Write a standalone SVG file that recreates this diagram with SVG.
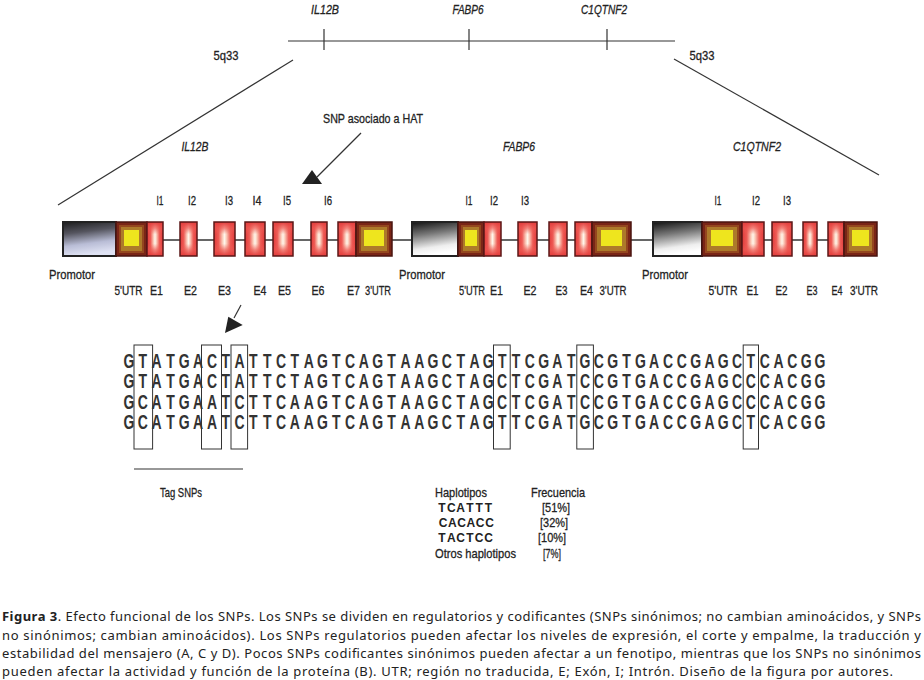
<svg xmlns="http://www.w3.org/2000/svg" width="924" height="680" viewBox="0 0 924 680">
<defs>
<style>
.lbl{font-family:"Liberation Sans",Arial,sans-serif;font-size:13.5px;fill:#222;stroke:#222;stroke-width:0.3}
.it{font-style:italic}
.seq{font-family:"Liberation Sans",Arial,sans-serif;font-weight:bold;font-size:20px;fill:#333;text-anchor:middle}
.hap{font-family:"Liberation Sans",Arial,sans-serif;font-weight:bold;font-size:12px;fill:#222;text-anchor:middle}
.mid{text-anchor:middle}
.cap{font-family:"Noto Sans","DejaVu Sans",sans-serif;font-size:13px;fill:#222}
.ln{stroke:#333;stroke-width:1.2;fill:none}
.exH{fill:url(#exH)}
.exV{fill:url(#exV)}
.exB{fill:none;stroke:#5b1717;stroke-width:1.5}
.u0{fill:#7a2517}
.u1{fill:#94471f}
.u2{fill:#ad7a2a}
.u3{fill:#eee51e}
.uB{fill:none;stroke:#4a1510;stroke-width:1.5}
.pB{stroke:#222;stroke-width:2}
.box{fill:none;stroke:#333;stroke-width:1}
</style>
<linearGradient id="exH" x1="0" y1="0" x2="1" y2="0">
<stop offset="0" stop-color="#e13a3a"/>
<stop offset="0.22" stop-color="#ee5b55"/>
<stop offset="0.42" stop-color="#fbd4c2"/>
<stop offset="0.5" stop-color="#fff4ea"/>
<stop offset="0.58" stop-color="#fbd4c2"/>
<stop offset="0.78" stop-color="#ee5b55"/>
<stop offset="1" stop-color="#e13a3a"/>
</linearGradient>
<linearGradient id="exV" x1="0" y1="0" x2="0" y2="1">
<stop offset="0" stop-color="#e13a3a" stop-opacity="1"/>
<stop offset="0.18" stop-color="#ec5550" stop-opacity="0.7"/>
<stop offset="0.36" stop-color="#ee5b55" stop-opacity="0"/>
<stop offset="0.64" stop-color="#ee5b55" stop-opacity="0"/>
<stop offset="0.82" stop-color="#ec5550" stop-opacity="0.7"/>
<stop offset="1" stop-color="#e13a3a" stop-opacity="1"/>
</linearGradient>
<linearGradient id="promA" x1="0" y1="0" x2="0.2" y2="1">
<stop offset="0" stop-color="#1c1c1c"/>
<stop offset="0.35" stop-color="#55555f"/>
<stop offset="0.7" stop-color="#b9bdd6"/>
<stop offset="1" stop-color="#dfe2f3"/>
</linearGradient>
<linearGradient id="promB" x1="0" y1="0" x2="0.2" y2="1">
<stop offset="0" stop-color="#111"/>
<stop offset="0.4" stop-color="#777"/>
<stop offset="0.8" stop-color="#eee"/>
<stop offset="1" stop-color="#fff"/>
</linearGradient>
</defs>
<rect width="924" height="680" fill="#fff"/>

<g id="chromosome">
<line class="ln" x1="288" y1="41" x2="675" y2="41"/>
<line class="ln" x1="324" y1="29" x2="324" y2="50"/>
<line class="ln" x1="469" y1="29" x2="469" y2="50"/>
<line class="ln" x1="607" y1="29" x2="607" y2="50"/>
<text class="lbl it mid" x="325" y="14" textLength="28" lengthAdjust="spacingAndGlyphs">IL12B</text>
<text class="lbl it mid" x="468" y="14" textLength="31" lengthAdjust="spacingAndGlyphs">FABP6</text>
<text class="lbl it mid" x="604" y="14" textLength="46" lengthAdjust="spacingAndGlyphs">C1QTNF2</text>
<text class="lbl mid" x="226" y="60" textLength="25" lengthAdjust="spacingAndGlyphs">5q33</text>
<text class="lbl mid" x="702" y="60" textLength="25" lengthAdjust="spacingAndGlyphs">5q33</text>
</g>

<g id="snp-label">
<text class="lbl mid" x="373" y="123" textLength="100" lengthAdjust="spacingAndGlyphs">SNP asociado a HAT</text>
</g>

<g id="gene-labels">
<text class="lbl it mid" x="195" y="151" textLength="27" lengthAdjust="spacingAndGlyphs">IL12B</text>
<text class="lbl it mid" x="519" y="151" textLength="32" lengthAdjust="spacingAndGlyphs">FABP6</text>
<text class="lbl it mid" x="757" y="151" textLength="48" lengthAdjust="spacingAndGlyphs">C1QTNF2</text>
</g>

<g id="backbone">
<line x1="116" y1="240" x2="877" y2="240" stroke="#333" stroke-width="1.5"/>
</g>

<g id="gene-il12b">
<rect class="pB" x="63" y="222" width="53" height="34" fill="url(#promA)"/>
<g class="utr"><rect class="u0" x="116" y="222" width="31" height="34"/><rect class="u1" x="119" y="225" width="25" height="28"/><rect class="u2" x="121" y="227" width="21" height="24"/><rect class="u3" x="124" y="230" width="15" height="16"/><rect class="uB" x="116" y="222" width="31" height="34"/></g>
<g class="exon"><rect class="exH" x="147" y="222" width="16" height="34"/><rect class="exV" x="147" y="222" width="16" height="34"/><rect class="exB" x="147" y="222" width="16" height="34"/></g>
<g class="exon"><rect class="exH" x="180" y="222" width="17" height="34"/><rect class="exV" x="180" y="222" width="17" height="34"/><rect class="exB" x="180" y="222" width="17" height="34"/></g>
<g class="exon"><rect class="exH" x="214" y="222" width="21" height="34"/><rect class="exV" x="214" y="222" width="21" height="34"/><rect class="exB" x="214" y="222" width="21" height="34"/></g>
<g class="exon"><rect class="exH" x="245" y="222" width="20" height="34"/><rect class="exV" x="245" y="222" width="20" height="34"/><rect class="exB" x="245" y="222" width="20" height="34"/></g>
<g class="exon"><rect class="exH" x="273" y="222" width="20" height="34"/><rect class="exV" x="273" y="222" width="20" height="34"/><rect class="exB" x="273" y="222" width="20" height="34"/></g>
<g class="exon"><rect class="exH" x="311" y="222" width="16" height="34"/><rect class="exV" x="311" y="222" width="16" height="34"/><rect class="exB" x="311" y="222" width="16" height="34"/></g>
<g class="exon"><rect class="exH" x="338" y="222" width="18" height="34"/><rect class="exV" x="338" y="222" width="18" height="34"/><rect class="exB" x="338" y="222" width="18" height="34"/></g>
<g class="utr"><rect class="u0" x="356" y="222" width="36" height="34"/><rect class="u1" x="359" y="225" width="30" height="28"/><rect class="u2" x="361" y="227" width="26" height="24"/><rect class="u3" x="364" y="230" width="20" height="16"/><rect class="uB" x="356" y="222" width="36" height="34"/></g>
<text class="lbl mid" x="160" y="205" textLength="7" lengthAdjust="spacingAndGlyphs">I1</text>
<text class="lbl mid" x="192" y="205" textLength="8" lengthAdjust="spacingAndGlyphs">I2</text>
<text class="lbl mid" x="229" y="205" textLength="8" lengthAdjust="spacingAndGlyphs">I3</text>
<text class="lbl mid" x="257" y="205" textLength="9" lengthAdjust="spacingAndGlyphs">I4</text>
<text class="lbl mid" x="287" y="205" textLength="8" lengthAdjust="spacingAndGlyphs">I5</text>
<text class="lbl mid" x="328" y="205" textLength="8" lengthAdjust="spacingAndGlyphs">I6</text>
<text class="lbl mid" x="72" y="279" textLength="46" lengthAdjust="spacingAndGlyphs">Promotor</text>
<text class="lbl mid" x="128.5" y="295" textLength="28" lengthAdjust="spacingAndGlyphs">5'UTR</text>
<text class="lbl mid" x="156.5" y="295" textLength="13" lengthAdjust="spacingAndGlyphs">E1</text>
<text class="lbl mid" x="190.5" y="295" textLength="13" lengthAdjust="spacingAndGlyphs">E2</text>
<text class="lbl mid" x="224.5" y="295" textLength="13" lengthAdjust="spacingAndGlyphs">E3</text>
<text class="lbl mid" x="260" y="295" textLength="13" lengthAdjust="spacingAndGlyphs">E4</text>
<text class="lbl mid" x="284.5" y="295" textLength="13" lengthAdjust="spacingAndGlyphs">E5</text>
<text class="lbl mid" x="318" y="295" textLength="13" lengthAdjust="spacingAndGlyphs">E6</text>
<text class="lbl mid" x="353.5" y="295" textLength="13" lengthAdjust="spacingAndGlyphs">E7</text>
<text class="lbl mid" x="378" y="295" textLength="26" lengthAdjust="spacingAndGlyphs">3'UTR</text>
</g>

<g id="gene-fabp6">
<rect class="pB" x="412" y="222" width="46" height="34" fill="url(#promB)"/>
<g class="utr"><rect class="u0" x="458" y="222" width="26" height="34"/><rect class="u1" x="461" y="225" width="20" height="28"/><rect class="u2" x="463" y="227" width="16" height="24"/><rect class="u3" x="465" y="230" width="12" height="16"/><rect class="uB" x="458" y="222" width="26" height="34"/></g>
<g class="exon"><rect class="exH" x="484" y="222" width="17" height="34"/><rect class="exV" x="484" y="222" width="17" height="34"/><rect class="exB" x="484" y="222" width="17" height="34"/></g>
<g class="exon"><rect class="exH" x="518" y="222" width="19" height="34"/><rect class="exV" x="518" y="222" width="19" height="34"/><rect class="exB" x="518" y="222" width="19" height="34"/></g>
<g class="exon"><rect class="exH" x="549" y="222" width="18" height="34"/><rect class="exV" x="549" y="222" width="18" height="34"/><rect class="exB" x="549" y="222" width="18" height="34"/></g>
<g class="exon"><rect class="exH" x="575" y="222" width="17" height="34"/><rect class="exV" x="575" y="222" width="17" height="34"/><rect class="exB" x="575" y="222" width="17" height="34"/></g>
<g class="utr"><rect class="u0" x="592" y="222" width="39" height="34"/><rect class="u1" x="595" y="225" width="33" height="28"/><rect class="u2" x="597" y="227" width="29" height="24"/><rect class="u3" x="601" y="230" width="21" height="16"/><rect class="uB" x="592" y="222" width="39" height="34"/></g>
<text class="lbl mid" x="469" y="205" textLength="7" lengthAdjust="spacingAndGlyphs">I1</text>
<text class="lbl mid" x="494" y="205" textLength="8" lengthAdjust="spacingAndGlyphs">I2</text>
<text class="lbl mid" x="525" y="205" textLength="8" lengthAdjust="spacingAndGlyphs">I3</text>
<text class="lbl mid" x="422" y="279" textLength="46" lengthAdjust="spacingAndGlyphs">Promotor</text>
<text class="lbl mid" x="472" y="295" textLength="26" lengthAdjust="spacingAndGlyphs">5'UTR</text>
<text class="lbl mid" x="496.5" y="295" textLength="13" lengthAdjust="spacingAndGlyphs">E1</text>
<text class="lbl mid" x="530" y="295" textLength="13" lengthAdjust="spacingAndGlyphs">E2</text>
<text class="lbl mid" x="561.5" y="295" textLength="12" lengthAdjust="spacingAndGlyphs">E3</text>
<text class="lbl mid" x="586.5" y="295" textLength="13" lengthAdjust="spacingAndGlyphs">E4</text>
<text class="lbl mid" x="613" y="295" textLength="27" lengthAdjust="spacingAndGlyphs">3'UTR</text>
</g>

<g id="gene-c1qtnf2">
<rect class="pB" x="653" y="222" width="49" height="34" fill="url(#promB)"/>
<g class="utr"><rect class="u0" x="702" y="222" width="40" height="34"/><rect class="u1" x="705" y="225" width="34" height="28"/><rect class="u2" x="707" y="227" width="30" height="24"/><rect class="u3" x="711" y="230" width="22" height="16"/><rect class="uB" x="702" y="222" width="40" height="34"/></g>
<g class="exon"><rect class="exH" x="742" y="222" width="22" height="34"/><rect class="exV" x="742" y="222" width="22" height="34"/><rect class="exB" x="742" y="222" width="22" height="34"/></g>
<g class="exon"><rect class="exH" x="772" y="222" width="20" height="34"/><rect class="exV" x="772" y="222" width="20" height="34"/><rect class="exB" x="772" y="222" width="20" height="34"/></g>
<g class="exon"><rect class="exH" x="803" y="222" width="14" height="34"/><rect class="exV" x="803" y="222" width="14" height="34"/><rect class="exB" x="803" y="222" width="14" height="34"/></g>
<g class="exon"><rect class="exH" x="828" y="222" width="16" height="34"/><rect class="exV" x="828" y="222" width="16" height="34"/><rect class="exB" x="828" y="222" width="16" height="34"/></g>
<g class="utr"><rect class="u0" x="844" y="222" width="33" height="34"/><rect class="u1" x="847" y="225" width="27" height="28"/><rect class="u2" x="849" y="227" width="23" height="24"/><rect class="u3" x="852" y="230" width="17" height="16"/><rect class="uB" x="844" y="222" width="33" height="34"/></g>
<text class="lbl mid" x="718" y="205" textLength="7" lengthAdjust="spacingAndGlyphs">I1</text>
<text class="lbl mid" x="756" y="205" textLength="8" lengthAdjust="spacingAndGlyphs">I2</text>
<text class="lbl mid" x="787" y="205" textLength="8" lengthAdjust="spacingAndGlyphs">I3</text>
<text class="lbl mid" x="665" y="279" textLength="46" lengthAdjust="spacingAndGlyphs">Promotor</text>
<text class="lbl mid" x="723" y="295" textLength="29" lengthAdjust="spacingAndGlyphs">5'UTR</text>
<text class="lbl mid" x="752.5" y="295" textLength="12" lengthAdjust="spacingAndGlyphs">E1</text>
<text class="lbl mid" x="781.5" y="295" textLength="12" lengthAdjust="spacingAndGlyphs">E2</text>
<text class="lbl mid" x="812" y="295" textLength="11" lengthAdjust="spacingAndGlyphs">E3</text>
<text class="lbl mid" x="837" y="295" textLength="11" lengthAdjust="spacingAndGlyphs">E4</text>
<text class="lbl mid" x="864" y="295" textLength="28" lengthAdjust="spacingAndGlyphs">3'UTR</text>
</g>

<g id="sequence">
<g transform="scale(0.7,1)">
<text class="seq" y="368" x="184.3 204 223.8 243.5 263.3 283 302.8 322.5 342.2 362 381.7 401.5 421.2 441 460.7 480.4 500.2 519.9 539.7 559.4 579.2 598.9 618.6 638.4 658.1 677.9 697.6 717.4 737.1 756.9 776.6 796.3 816.1 835.8 855.6 875.3 895 914.8 934.5 954.3 974 993.8 1013.5 1033.2 1053 1072.7 1092.5 1112.2 1132 1151.7 1171.4">GTATGACTATTCTAGTCAGTAAGCTAGTTCGATGCGTGACCGAGCTCACGG</text>
<text class="seq" y="388.5" x="184.3 204 223.8 243.5 263.3 283 302.8 322.5 342.2 362 381.7 401.5 421.2 441 460.7 480.4 500.2 519.9 539.7 559.4 579.2 598.9 618.6 638.4 658.1 677.9 697.6 717.4 737.1 756.9 776.6 796.3 816.1 835.8 855.6 875.3 895 914.8 934.5 954.3 974 993.8 1013.5 1033.2 1053 1072.7 1092.5 1112.2 1132 1151.7 1171.4">GTATGACTATTCTAGTCAGTAAGCTAGCTCGATCCGTGACCGAGCCCACGG</text>
<text class="seq" y="409" x="184.3 204 223.8 243.5 263.3 283 302.8 322.5 342.2 362 381.7 401.5 421.2 441 460.7 480.4 500.2 519.9 539.7 559.4 579.2 598.9 618.6 638.4 658.1 677.9 697.6 717.4 737.1 756.9 776.6 796.3 816.1 835.8 855.6 875.3 895 914.8 934.5 954.3 974 993.8 1013.5 1033.2 1053 1072.7 1092.5 1112.2 1132 1151.7 1171.4">GCATGAATCTTCAAGTCAGTAAGCTAGCTCGATCCGTGACCGAGCCCACGG</text>
<text class="seq" y="429.5" x="184.3 204 223.8 243.5 263.3 283 302.8 322.5 342.2 362 381.7 401.5 421.2 441 460.7 480.4 500.2 519.9 539.7 559.4 579.2 598.9 618.6 638.4 658.1 677.9 697.6 717.4 737.1 756.9 776.6 796.3 816.1 835.8 855.6 875.3 895 914.8 934.5 954.3 974 993.8 1013.5 1033.2 1053 1072.7 1092.5 1112.2 1132 1151.7 1171.4">GCATGAATCTTCAAGTCAGTAAGCTAGTTCGATGCGTGACCGAGCTCACGG</text>
</g>
<rect class="box" x="134" y="345" width="18.6" height="104"/>
<rect class="box" x="201.5" y="345" width="20" height="104"/>
<rect class="box" x="231" y="345" width="16.6" height="104"/>
<rect class="box" x="493.5" y="345" width="16.7" height="104"/>
<rect class="box" x="576.8" y="345" width="16.6" height="104"/>
<rect class="box" x="743.2" y="345" width="15.3" height="104"/>
</g>

<g id="tag-snps">
<line class="ln" x1="134" y1="469" x2="243" y2="469"/>
<text class="lbl mid" x="181" y="497" textLength="42" lengthAdjust="spacingAndGlyphs">Tag SNPs</text>
</g>

<g id="haplotypes">
<text class="lbl" x="435" y="497" textLength="52" lengthAdjust="spacingAndGlyphs">Haplotipos</text>
<text class="lbl" x="531" y="497" textLength="54" lengthAdjust="spacingAndGlyphs">Frecuencia</text>
<text class="hap" y="512" x="442 451.3 460.6 469.9 479.2 488.5">TCATTT</text>
<text class="hap" y="527" x="443 452.3 461.6 470.9 480.2 489.5">CACACC</text>
<text class="hap" y="542" x="442 451.3 460.6 469.9 479.2 488.5">TACTCC</text>
<text class="lbl" x="435" y="558" textLength="81" lengthAdjust="spacingAndGlyphs">Otros haplotipos</text>
<text class="lbl mid" x="556" y="512" textLength="28" lengthAdjust="spacingAndGlyphs">[51%]</text>
<text class="lbl mid" x="554" y="527" textLength="28" lengthAdjust="spacingAndGlyphs">[32%]</text>
<text class="lbl mid" x="552" y="542" textLength="28" lengthAdjust="spacingAndGlyphs">[10%]</text>
<text class="lbl mid" x="552" y="558" textLength="18" lengthAdjust="spacingAndGlyphs">[7%]</text>
</g>

<g id="connectors">
<line class="ln" x1="293" y1="60" x2="58" y2="205"/>
<line class="ln" x1="674" y1="59" x2="879" y2="175"/>
<line class="ln" x1="361" y1="133" x2="317" y2="177"/>
<polygon points="302,184 322,184 312,170" fill="#222"/>
<line class="ln" x1="241" y1="305" x2="234" y2="318"/>
<polygon points="225,333 228.3,316.7 242.7,325" fill="#222"/>
</g>

<g id="caption">
<text class="cap" x="2" y="621" textLength="919" lengthAdjust="spacing"><tspan font-weight="bold">Figura 3</tspan>. Efecto funcional de los SNPs. Los SNPs se dividen en regulatorios y codificantes (SNPs sinónimos; no cambian aminoácidos, y SNPs</text>
<text class="cap" x="2" y="640" textLength="919" lengthAdjust="spacing">no sinónimos; cambian aminoácidos). Los SNPs regulatorios pueden afectar los niveles de expresión, el corte y empalme, la traducción y</text>
<text class="cap" x="2" y="658" textLength="919" lengthAdjust="spacing">estabilidad del mensajero (A, C y D). Pocos SNPs codificantes sinónimos pueden afectar a un fenotipo, mientras que los SNPs no sinónimos</text>
<text class="cap" x="2" y="676" textLength="891" lengthAdjust="spacing">pueden afectar la actividad y función de la proteína (B). UTR; región no traducida, E; Exón, I; Intrón. Diseño de la figura por autores.</text>
</g>
</svg>
